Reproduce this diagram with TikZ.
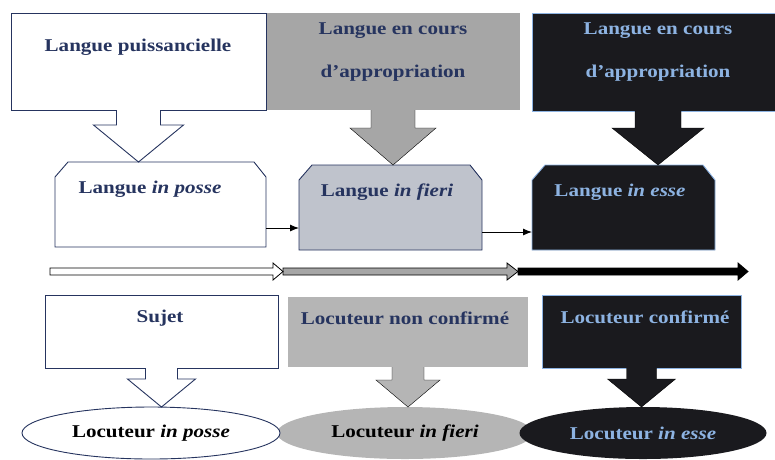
\documentclass[tikz,border=0pt]{standalone}
\usepackage{fontspec}
\setmainfont{Liberation Serif}[FakeStretch=1.17]
\usetikzlibrary{arrows.meta,calc,shapes.geometric}

\definecolor{navy}{HTML}{26345F}
\definecolor{skyblue}{HTML}{8DB3E2}
\definecolor{midgray}{HTML}{A6A6A6}
\definecolor{fierigray}{HTML}{BFC3CC}
\definecolor{botgray}{HTML}{B5B5B5}
\definecolor{darkfill}{HTML}{1A1A1E}

% block arrow hanging under a box: from box, to box, stem half width, head half width, neck
\newcommand{\calloutarrow}[6]{%
  \draw[#1] ($(#2.south)+(-#4,0)$) -- ++(0,#6) -- ($(#2.south)+(-#5,#6)$) -- (#2.south |- #3.north)
    -- ($(#2.south)+(#5,#6)$) -- ($(#2.south)+(#4,#6)$) -- ($(#2.south)+(#4,0)$);}
% box with its two upper corners cut off
\newcommand{\snipbox}[2]{%
  \draw[#1] (#2.south west) -- ([yshift=-15pt]#2.north west) -- ([xshift=13pt]#2.north west)
    -- ([xshift=-12pt]#2.north east) -- ([yshift=-15pt]#2.north east) -- (#2.south east) -- cycle;}

\begin{document}
\begin{tikzpicture}[x=1pt,y=-1pt,
		wbox/.style={draw=navy,fill=white,line width=0.9pt,inner sep=0pt,outer sep=0pt},
		gbox/.style={fill=midgray,inner sep=0pt,outer sep=0pt},
		kbox/.style={draw=skyblue,fill=darkfill,line width=0.9pt,inner sep=0pt,outer sep=0pt},
		holder/.style={inner sep=0pt,outer sep=0pt},
		ell/.style={ellipse,inner sep=0pt,outer sep=0pt,minimum height=52pt},
		link/.style={-{Latex[length=9pt,width=7pt]},line width=0.9pt},
		ntxt/.style={font=\fontsize{18}{21}\selectfont\bfseries,text=navy},
		btxt/.style={font=\fontsize{18}{21}\selectfont\bfseries,text=skyblue},
		ktxt/.style={font=\fontsize{18}{21}\selectfont\bfseries,text=black},
		twoline/.style={align=center,font=\fontsize{18}{43}\selectfont\bfseries}]
		\clip (0,0) rectangle (775,459);
		% top row
		\node[gbox,minimum width=254pt,minimum height=97pt] (ac) at (393,61.5) {};
		\node[wbox,minimum width=255pt,minimum height=97pt] (pu) at (138.5,61.5) {};
		\node[kbox,minimum width=252pt,minimum height=98pt] (ae) at (658,62) {};
		\node[ntxt] (pu-t) at (138,47) {Langue puissancielle};
		\node[ntxt,twoline] (ac-t) at (393,52) {Langue en cours\\d’appropriation};
		\node[btxt,twoline] (ae-t) at (658,52) {Langue en cours\\d’appropriation};
		% middle row
		\node[holder,minimum width=211pt,minimum height=85pt] (ip) at (160.5,204.5) {};
		\node[holder,minimum width=183pt,minimum height=85pt] (fi) at (390.5,207.5) {};
		\node[holder,minimum width=183pt,minimum height=85pt] (es) at (623.5,207.5) {};
		\snipbox{draw=navy,fill=white,line width=0.9pt}{ip}
		\snipbox{draw=navy,fill=fierigray,line width=0.9pt}{fi}
		\snipbox{draw=skyblue,fill=darkfill,line width=0.9pt}{es}
		\node[ntxt] (ip-t) at (150,189) {Langue \textit{in posse}};
		\node[ntxt] (fi-t) at (387,192) {Langue \textit{in fieri}};
		\node[btxt] (es-t) at (620,192) {Langue \textit{in esse}};
		\calloutarrow{draw=navy,fill=white,line width=0.9pt}{pu}{ip}{22}{45}{15}
		\calloutarrow{fill=midgray}{ac}{fi}{22}{43}{18}
		\calloutarrow{fill=darkfill}{ae}{es}{23}{46}{17}
		\draw[link] ([yshift=19pt]ip.south east) -- ([yshift=19pt]ip.south east -| fi.west);
		\draw[link] ([yshift=18pt]fi.south east) -- ([yshift=18pt]fi.south east -| es.west);
		% time line
		\draw[fill=black,line width=0.8pt] (518,268) -- (738,268) -- (738,263) -- (748,271.5) -- (738,280) -- (738,275) -- (518,275) -- cycle;
		\draw[fill=midgray,line width=0.8pt] (283,268) -- (507,268) -- (507,263) -- (518,271.5) -- (507,280) -- (507,275) -- (283,275) -- cycle;
		\draw[fill=white,line width=0.8pt] (50,268) -- (273,268) -- (273,263) -- (283,271.5) -- (273,280) -- (273,275) -- (50,275) -- cycle;
		% bottom row
		\node[wbox,minimum width=233pt,minimum height=73pt] (su) at (161.5,331.5) {};
		\node[gbox,fill=botgray,minimum width=240pt,minimum height=70pt] (nc) at (408,332) {};
		\node[kbox,minimum width=199pt,minimum height=73pt] (cf) at (641.5,331.5) {};
		\node[ntxt] (su-t) at (160,318) {Sujet};
		\node[ntxt] (nc-t) at (405,318) {Locuteur non confirmé};
		\node[btxt] (cf-t) at (645,317) {Locuteur confirmé};
		\node[ell,fill=botgray,ktxt,minimum width=256pt] (lf) at (405,433) {Locuteur \textit{in fieri}};
		\node[ell,draw=navy,line width=0.9pt,fill=white,ktxt,minimum width=258pt] (lp) at (151,433) {Locuteur \textit{in posse}};
		\node[ell,fill=darkfill,btxt,minimum width=247pt] (le) at (643,433) {Locuteur \textit{in esse}};
		\calloutarrow{draw=navy,fill=white,line width=0.9pt}{su}{lp}{16}{34}{11}
		\calloutarrow{fill=botgray}{nc}{lf}{16}{32}{13}
		\calloutarrow{fill=darkfill}{cf}{le}{15}{34}{11}
\end{tikzpicture}
\end{document}
